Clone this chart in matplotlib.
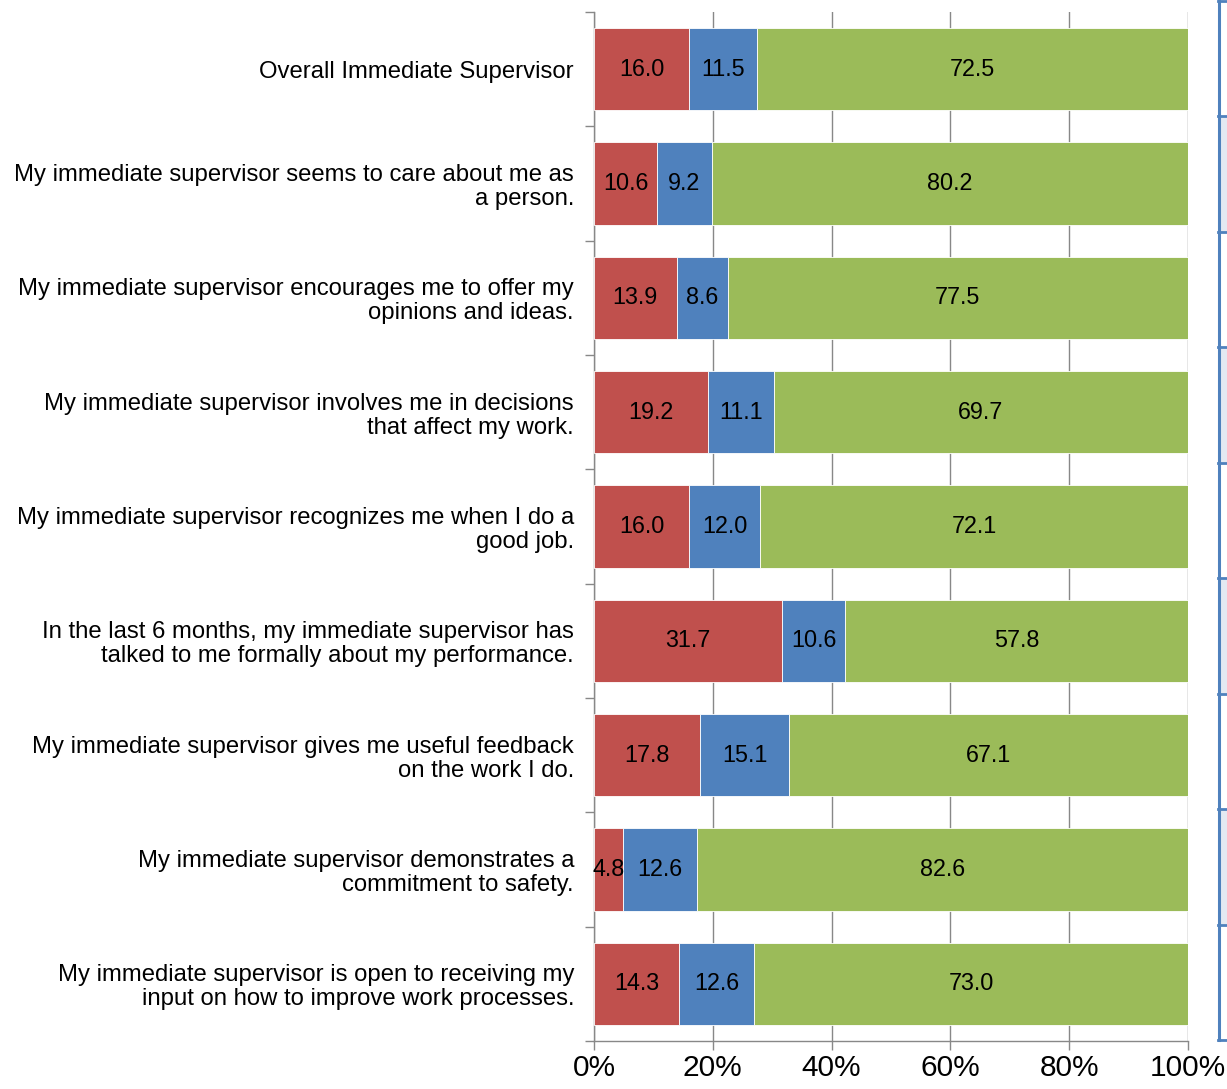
import matplotlib.pyplot as plt
import numpy as np
from matplotlib.patches import Rectangle
from matplotlib.lines import Line2D

plt.rcParams['font.family'] = ['Liberation Sans', 'DejaVu Sans']

labels = [
    "Overall Immediate Supervisor",
    "My immediate supervisor seems to care about me as\na person.",
    "My immediate supervisor encourages me to offer my\nopinions and ideas.",
    "My immediate supervisor involves me in decisions\nthat affect my work.",
    "My immediate supervisor recognizes me when I do a\ngood job.",
    "In the last 6 months, my immediate supervisor has\ntalked to me formally about my performance.",
    "My immediate supervisor gives me useful feedback\non the work I do.",
    "My immediate supervisor demonstrates a\ncommitment to safety.",
    "My immediate supervisor is open to receiving my\ninput on how to improve work processes.",
]
red_vals = [16.0, 10.6, 13.9, 19.2, 16.0, 31.7, 17.8, 4.8, 14.3]
blue_vals = [11.5, 9.2, 8.6, 11.1, 12.0, 10.6, 15.1, 12.6, 12.6]
green_vals = [72.5, 80.2, 77.5, 69.7, 72.1, 57.8, 67.1, 82.6, 73.0]
xticks = [0, 20, 40, 60, 80, 100]

W, H = 1227, 1089
fig = plt.figure(figsize=(W / 100, H / 100), dpi=100)
ax = fig.add_axes([594 / W, 1 - 1041 / H, (1188 - 594) / W, (1041 - 12) / H])

series = [red_vals, blue_vals, green_vals]
colors = ['#C0504D', '#4F81BD', '#9BBB59']
raw = np.array(series)
pct = raw / raw.sum(axis=0) * 100  # 100% stacked
y = np.arange(len(labels))
left = np.zeros(len(labels))
for vals, shown, col in zip(pct, raw, colors):
    ax.barh(y, vals, left=left, height=0.72, color=col,
            edgecolor='white', linewidth=0.6, zorder=3)
    for yi, l, v, s in zip(y, left, vals, shown):
        ax.text(l + v / 2, yi, f"{s:.1f}", ha='center', va='center',
                fontsize=16.8, color='black', zorder=4)
    left += vals

ax.set_xlim(0, 100)
ax.set_ylim(len(labels) - 0.5, -0.5)
ax.set_xticks(xticks)
ax.set_xticklabels([f"{t}%" for t in xticks], fontsize=21.5)
ax.grid(axis='x', color='#888888', linewidth=1, zorder=0)
ax.tick_params(axis='x', direction='out', length=6.5, width=1, color='#888888', pad=3)

ax.set_yticks(np.arange(-0.5, len(labels), 1.0))
ax.set_yticklabels([])
ax.set_yticks(y, minor=True)
ax.set_yticklabels(labels, minor=True, fontsize=17.2, linespacing=1.12)
ax.tick_params(axis='y', which='major', direction='out', length=6.5, width=1, color='#888888')
ax.tick_params(axis='y', which='minor', length=0, pad=14.4)

for s in ['top', 'right']:
    ax.spines[s].set_visible(False)
for s in ['left', 'bottom']:
    ax.spines[s].set_color('#888888')
    ax.spines[s].set_linewidth(1)

# partially visible table frame at the right edge
row_h = (1040 - 1) / 9
for i in range(9):
    top = 1 + i * row_h
    fc = '#E4E9F2' if i % 2 == 1 else 'white'
    fig.add_artist(Rectangle((1219 / W, 1 - (top + row_h) / H), 20 / W, row_h / H,
                             transform=fig.transFigure, facecolor=fc, edgecolor='none'))
    fig.add_artist(Line2D([1218 / W, 1.0], [1 - top / H] * 2, transform=fig.transFigure,
                          color='#4F81BD', linewidth=2))
fig.add_artist(Line2D([1218 / W, 1.0], [1 - 1040 / H] * 2, transform=fig.transFigure,
                      color='#4F81BD', linewidth=2))
fig.add_artist(Line2D([1219 / W] * 2, [1 - 1 / H, 1 - 1040 / H], transform=fig.transFigure,
                      color='#4F81BD', linewidth=2.2))

fig.savefig('out.png', dpi=100)
